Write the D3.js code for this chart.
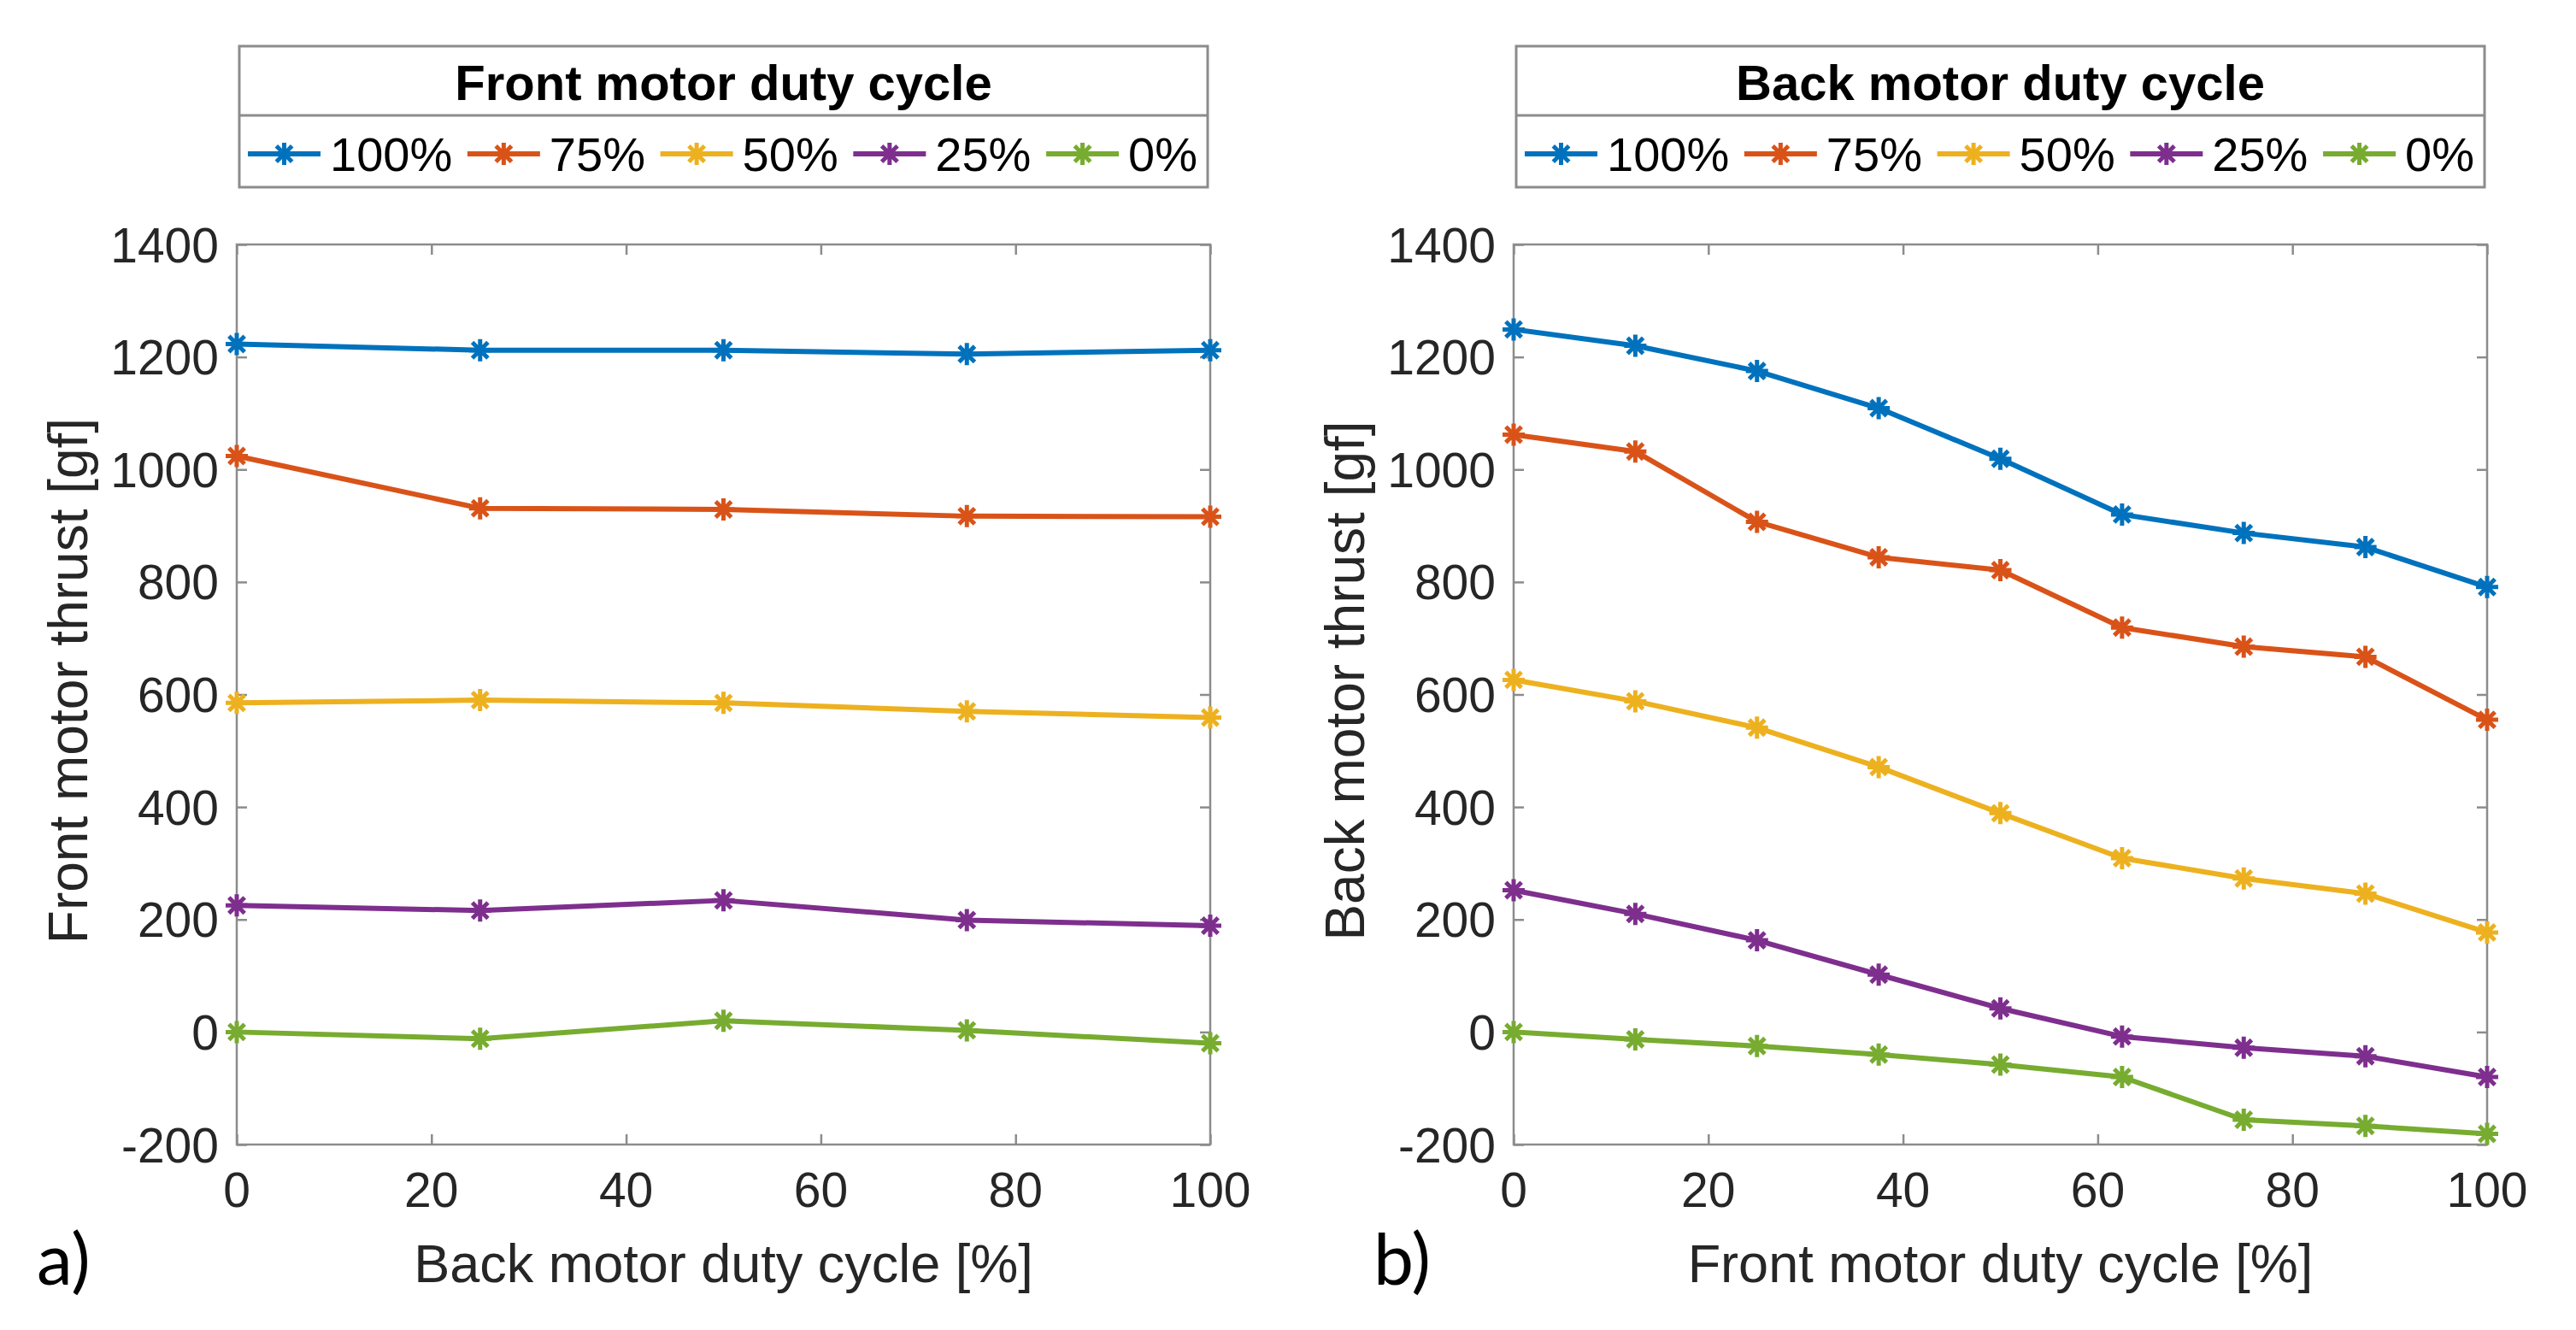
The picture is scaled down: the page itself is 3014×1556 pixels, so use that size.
<!DOCTYPE html>
<html>
<head>
<meta charset="utf-8">
<script src="https://cdn.jsdelivr.net/npm/d3@7"></script>
<style>
  body { margin: 0; background: white; }
  text { font-family: "Liberation Sans", Arial, sans-serif; fill: #262626; }
</style>
</head>
<body>
<div id="Canvas1"></div>
<script>
let W = 3014
let H = 1556

// series labels / colours (MATLAB default order)
let dutyLabels = ["100%", "75%", "50%", "25%", "0%"]
let lineColors = ["#0072BD", "#D95319", "#EDB120", "#7E2F8E", "#77AC30"]

// a) front motor thrust vs back motor duty cycle
let backDuty = [0, 25, 50, 75, 100]
let front100 = [1223, 1212, 1212, 1205, 1212]
let front75 = [1024, 931, 929, 917, 916]
let front50 = [585, 590, 585, 570, 559]
let front25 = [225, 216, 234, 199, 189]
let front0 = [0, -12, 20, 3, -20]

// b) back motor thrust vs front motor duty cycle
let frontDuty = [0, 12.5, 25, 37.5, 50, 62.5, 75, 87.5, 100]
let back100 = [1249, 1220, 1175, 1109, 1019, 920, 887, 862, 791]
let back75 = [1062, 1032, 907, 844, 821, 719, 685, 667, 555]
let back50 = [626, 588, 541, 471, 389, 309, 273, 246, 177]
let back25 = [252, 210, 163, 102, 42, -8, -28, -43, -80]
let back0 = [0, -13, -25, -40, -58, -80, -156, -167, -181]

let xTicks = [0, 20, 40, 60, 80, 100]
let yTicks = [-200, 0, 200, 400, 600, 800, 1000, 1200, 1400]

let svg = d3.select("#Canvas1")
    .append("svg")
    .attr("width", W)
    .attr("height", H)
    .style("background", "white")

// draw one panel
function drawPanel(opt) {
    let x = d3.scaleLinear().domain([0, 100]).range([opt.left, opt.right])
    let y = d3.scaleLinear().domain([-200, 1400]).range([1339, 286])
    let g = svg.append("g")
    let axisColor = "#8c8c8c"

    // box
    g.append("rect")
        .attr("x", opt.left).attr("y", 286)
        .attr("width", opt.right - opt.left).attr("height", 1339 - 286)
        .attr("fill", "none").attr("stroke", axisColor).attr("stroke-width", 2.5)

    // ticks (inside, all four sides)
    g.append("g").attr("transform", "translate(0,1339)")
        .call(d3.axisBottom(x).tickValues(xTicks).tickSize(-12).tickFormat(""))
    g.append("g").attr("transform", "translate(0,286)")
        .call(d3.axisTop(x).tickValues(xTicks).tickSize(-12).tickFormat(""))
    g.append("g").attr("transform", `translate(${opt.left},0)`)
        .call(d3.axisLeft(y).tickValues(yTicks).tickSize(-12).tickFormat(""))
    g.append("g").attr("transform", `translate(${opt.right},0)`)
        .call(d3.axisRight(y).tickValues(yTicks).tickSize(-12).tickFormat(""))
    g.selectAll(".domain").remove()
    g.selectAll(".tick line").attr("stroke", axisColor).attr("stroke-width", 2.5)

    // tick labels
    g.selectAll(".xlab").data(xTicks).join("text")
        .attr("x", d => x(d)).attr("y", 1412)
        .attr("text-anchor", "middle").attr("font-size", 57)
        .text(d => d)
    g.selectAll(".ylab").data(yTicks).join("text")
        .attr("x", opt.left - 21).attr("y", d => y(d))
        .attr("dy", "0.36em")
        .attr("text-anchor", "end").attr("font-size", 57)
        .text(d => String(d))

    // axis titles
    g.append("text")
        .attr("x", (opt.left + opt.right) / 2).attr("y", 1500)
        .attr("text-anchor", "middle").attr("font-size", 63)
        .text(opt.xTitle)
    g.append("text")
        .attr("transform", `translate(${opt.left - 175},${(286 + 1339) / 2 - 16}) rotate(-90)`)
        .attr("text-anchor", "middle").attr("font-size", 64)
        .text(opt.yTitle)

    // panel letter
    g.append("text")
        .attr("x", opt.letterX).attr("y", 1503)
        .style("font-family", "Lato, 'Open Sans', sans-serif")
        .attr("font-size", 84).style("fill", "#000")
        .text(opt.letter)

    // lines + asterisk markers
    let line = d3.line().x(d => x(d[0])).y(d => y(d[1]))
    let series = opt.series.map(vals => opt.xs.map((v, i) => [v, vals[i]]))
    series.forEach((pts, si) => {
        g.append("path")
            .attr("d", line(pts))
            .attr("fill", "none")
            .attr("stroke", lineColors[si])
            .attr("stroke-width", 6)
            .attr("stroke-linejoin", "round")
        g.selectAll(null).data(pts).join("path")
            .attr("transform", d => `translate(${x(d[0])},${y(d[1])})`)
            .attr("d", asterisk(13))
            .attr("stroke", lineColors[si])
            .attr("stroke-width", 5)
    })

    // legend
    let lg = g.append("g")
    lg.append("rect")
        .attr("x", opt.legLeft).attr("y", 54)
        .attr("width", opt.legRight - opt.legLeft).attr("height", 219 - 54)
        .attr("fill", "white").attr("stroke", axisColor).attr("stroke-width", 3)
    lg.append("line")
        .attr("x1", opt.legLeft).attr("x2", opt.legRight)
        .attr("y1", 135).attr("y2", 135)
        .attr("stroke", axisColor).attr("stroke-width", 3)
    lg.append("text")
        .attr("x", (opt.legLeft + opt.legRight) / 2).attr("y", 117)
        .attr("text-anchor", "middle").attr("font-size", 58)
        .attr("font-weight", "bold").style("fill", "#000")
        .text(opt.legTitle)

    // entries: measure label widths first, then spread across the box
    let lineLen = 85, gapTxt = 11, padL = 10, padR = 12
    let items = lg.selectAll(".item").data(dutyLabels).join("g")
    items.append("text")
        .attr("font-size", 56).style("fill", "#000")
        .attr("y", 200)
        .text(d => d)
    let widths = []
    items.select("text").each(function () { widths.push(this.getComputedTextLength()) })
    let totalText = d3.sum(widths)
    let spacing = (opt.legRight - opt.legLeft - padL - padR - dutyLabels.length * (lineLen + gapTxt) - totalText) / (dutyLabels.length - 1)
    let cx = opt.legLeft + padL
    items.each(function (d, i) {
        let it = d3.select(this)
        it.append("line")
            .attr("x1", cx).attr("x2", cx + lineLen)
            .attr("y1", 180).attr("y2", 180)
            .attr("stroke", lineColors[i]).attr("stroke-width", 6)
        it.append("path")
            .attr("transform", `translate(${cx + lineLen / 2},180)`)
            .attr("d", asterisk(13))
            .attr("stroke", lineColors[i]).attr("stroke-width", 5)
        it.select("text").attr("x", cx + lineLen + gapTxt)
        cx += lineLen + gapTxt + widths[i] + spacing
    })
}

// MATLAB style '*' marker: + and x combined
function asterisk(r) {
    let p = d3.path()
    let a = r * Math.SQRT1_2
    p.moveTo(-r, 0); p.lineTo(r, 0)
    p.moveTo(0, -r); p.lineTo(0, r)
    p.moveTo(-a, -a); p.lineTo(a, a)
    p.moveTo(-a, a); p.lineTo(a, -a)
    return p.toString()
}

drawPanel({
    left: 277, right: 1416,
    xs: backDuty,
    series: [front100, front75, front50, front25, front0],
    xTitle: "Back motor duty cycle [%]",
    yTitle: "Front motor thrust [gf]",
    legTitle: "Front motor duty cycle",
    legLeft: 280, legRight: 1413,
    letter: "a)", letterX: 43
})

drawPanel({
    left: 1771, right: 2910,
    xs: frontDuty,
    series: [back100, back75, back50, back25, back0],
    xTitle: "Front motor duty cycle [%]",
    yTitle: "Back motor thrust [gf]",
    legTitle: "Back motor duty cycle",
    legLeft: 1774, legRight: 2907,
    letter: "b)", letterX: 1607
})
</script>
</body>
</html>
